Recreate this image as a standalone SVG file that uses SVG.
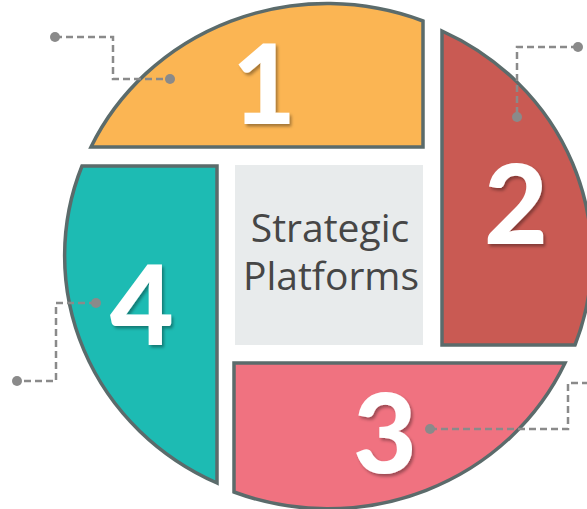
<svg xmlns="http://www.w3.org/2000/svg" width="587" height="509" viewBox="0 0 587 509">
<defs>
<filter id="sh" x="-20%" y="-20%" width="150%" height="150%">
<feDropShadow dx="2" dy="2.5" stdDeviation="1.5" flood-color="#000" flood-opacity="0.35"/>
</filter>
</defs>
<style>
.seg{stroke:#5B6B6B;stroke-width:3.5;stroke-linejoin:miter}
.num{font-family:Lato,"Open Sans",sans-serif;font-weight:900;font-size:110px;fill:#fff;text-anchor:middle;filter:url(#sh)}
.lbl{font-family:"Open Sans","Noto Sans",sans-serif;font-size:39px;fill:#464646;text-anchor:middle}
.con{fill:none;stroke:#8A8A8A;stroke-width:2.5;stroke-dasharray:7 4}
.dot{fill:#8A8A8A}
</style>
<rect width="587" height="509" fill="#fff"/>
<g id="center">
<rect x="235" y="165" width="188" height="180" fill="#E8EBEC"/>
<text class="lbl" x="330" y="242">Strategic</text>
<text class="lbl" x="331" y="290">Platforms</text>
</g>
<g id="seg1">
<path class="seg" fill="#FBB553" d="M91,147 A261,250 0 0,1 423,21 L423,147 Z"/>
<text class="num" x="264" y="124">1</text>
</g>
<g id="seg2">
<path class="seg" fill="#C95A53" d="M442,31 A261,250 0 0,1 575,345 L442,345 Z"/>
<text class="num" x="516" y="244">2</text>
</g>
<g id="seg3">
<path class="seg" fill="#F07280" d="M234,363 L565,363 A261,250 0 0,1 234,492 Z"/>
<text class="num" x="385" y="473">3</text>
</g>
<g id="seg4">
<path class="seg" fill="#1DBBB3" d="M82,166 L217,166 L217,483 A261,250 0 0,1 82,166 Z"/>
<text class="num" x="142" y="345">4</text>
</g>
<g id="connectors">
<path class="con" d="M55,37 H113 V79 H170"/>
<circle class="dot" cx="55" cy="37" r="5"/>
<circle class="dot" cx="170" cy="79" r="5"/>
<path class="con" d="M578,47 H517 V117"/>
<circle class="dot" cx="578" cy="47" r="5"/>
<circle class="dot" cx="517" cy="117" r="5"/>
<path class="con" d="M430,429 H568 V383 H590"/>
<circle class="dot" cx="430" cy="429" r="5"/>
<path class="con" d="M96,303 H56 V381 H17"/>
<circle class="dot" cx="96" cy="303" r="5"/>
<circle class="dot" cx="17" cy="381" r="5"/>
</g>
</svg>
